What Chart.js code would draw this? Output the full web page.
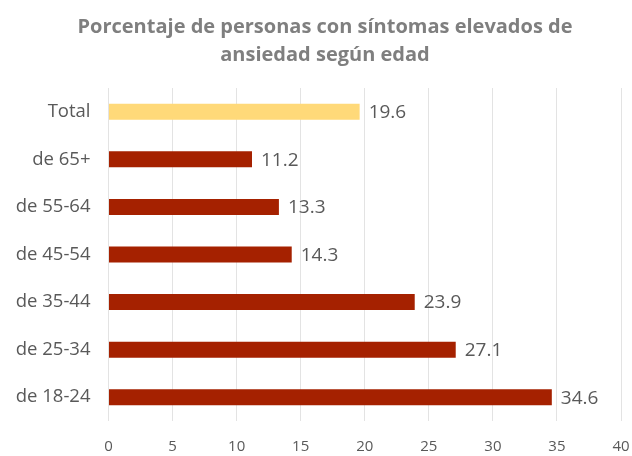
<!DOCTYPE html>
<html>
<head>
<meta charset="utf-8">
<script src="https://cdn.jsdelivr.net/npm/chart.js@4"></script>
<style>
html,body{margin:0;padding:0;background:#fff;}
#wrap{width:632px;height:456px;}
</style>
</head>
<body>
<div id="wrap"><canvas id="c" width="632" height="456"></canvas></div>
<script>
const categories = ["Total", "de 65+", "de 55-64", "de 45-54", "de 35-44", "de 25-34", "de 18-24"];
const values = [19.6, 11.2, 13.3, 14.3, 23.9, 27.1, 34.6];
const barColors = ["#FFD979", "#A52100", "#A52100", "#A52100", "#A52100", "#A52100", "#A52100"];
const titleLines = ["Porcentaje de personas con síntomas elevados de", "ansiedad según edad"];

const valueLabels = {
  id: 'valueLabels',
  afterDatasetsDraw(chart) {
    const ctx = chart.ctx;
    const meta = chart.getDatasetMeta(0);
    ctx.save();
    ctx.font = '19px "Open Sans", sans-serif';
    ctx.fillStyle = '#595959';
    ctx.textBaseline = 'middle';
    ctx.textAlign = 'left';
    meta.data.forEach((bar, i) => {
      ctx.fillText(values[i].toFixed(1), bar.x + 9, bar.y + 1);
    });
    ctx.restore();
  }
};

const chartTitle = {
  id: 'chartTitle',
  afterDraw(chart) {
    const ctx = chart.ctx;
    ctx.save();
    ctx.font = 'bold 20px "Open Sans", sans-serif';
    ctx.fillStyle = '#7F7F7F';
    ctx.textAlign = 'center';
    ctx.textBaseline = 'middle';
    titleLines.forEach((line, i) => ctx.fillText(line, 325, 27 + i * 28));
    ctx.restore();
  }
};

new Chart(document.getElementById('c'), {
  type: 'bar',
  data: {
    labels: categories,
    datasets: [{
      data: values,
      backgroundColor: barColors,
      borderWidth: 0,
      categoryPercentage: 1,
      barPercentage: 0.337
    }]
  },
  options: {
    indexAxis: 'y',
    responsive: false,
    animation: false,
    layout: { padding: { left: 0, right: 11, top: 88, bottom: 0 } },
    plugins: {
      legend: { display: false },
      tooltip: { enabled: false },
      title: { display: false }
    },
    scales: {
      x: {
        min: 0, max: 40,
        ticks: { stepSize: 5, color: '#595959', font: { family: '"Open Sans", sans-serif', size: 15 }, padding: 17 },
        grid: { color: '#E3E3E3', drawTicks: false },
        border: { display: false },
        afterFit(scale) { scale.height = 35; scale.paddingLeft = 0; scale.paddingRight = 0; }
      },
      y: {
        ticks: { color: '#595959', font: { family: '"Open Sans", sans-serif', size: 18.5 }, padding: 18 },
        grid: { display: false, drawTicks: false },
        border: { display: false },
        afterFit(scale) { scale.width = 108.5; scale.paddingTop = 0; scale.paddingBottom = 0; }
      }
    }
  },
  plugins: [valueLabels, chartTitle]
});
</script>
</body>
</html>
